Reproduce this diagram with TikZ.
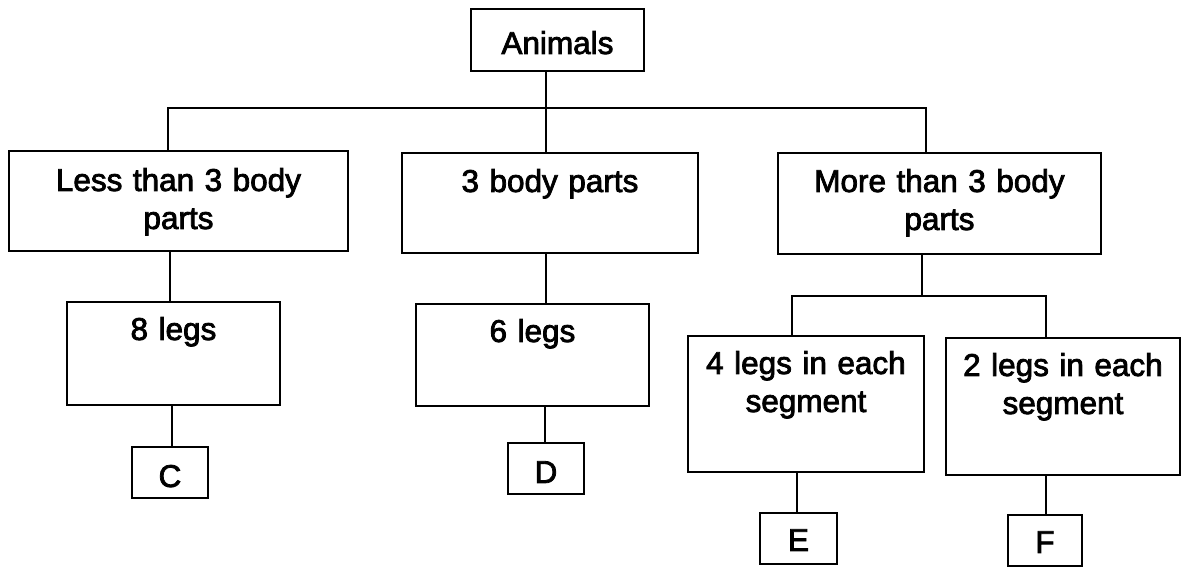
\documentclass[tikz,border=0pt]{standalone}
\usepackage{fontspec}
\setmainfont{Liberation Sans}[FakeBold=2.5,WordSpace=0.8]
\begin{document}
\begin{tikzpicture}[x=1pt,y=-1pt,
  box/.style={draw, line width=1.9pt, inner sep=0pt, anchor=north west, align=center, font=\fontsize{31.5}{38}\selectfont},
  conn/.style={line width=1.9pt}]
\useasboundingbox (0,0) rectangle (1182,568);
% boxes
\node[box, minimum width=173pt, text width=173pt, text height=45pt, text depth=17pt] (animals) at (470,8) {Animals};
\node[box, minimum width=339pt, text width=339pt, text height=40pt, text depth=60pt] (less) at (8,150) {Less than 3 body\\parts};
\node[box, minimum width=296pt, text width=296pt, text height=39pt, text depth=61pt] (mid) at (401,152) {3 body parts};
\node[box, minimum width=323pt, text width=323pt, text height=39pt, text depth=62pt] (more) at (777,152) {More than 3 body\\parts};
\node[box, minimum width=213pt, text width=213pt, text height=38pt, text depth=65pt] (legs8) at (66,301) {8 legs};
\node[box, minimum width=233pt, text width=233pt, text height=38pt, text depth=64pt] (legs6) at (415,303) {6 legs};
\node[box, minimum width=236pt, text width=236pt, text height=38pt, text depth=98pt] (legs4) at (687,335) {4 legs in each\\segment};
\node[box, minimum width=234pt, text width=234pt, text height=38pt, text depth=99pt] (legs2) at (945,337) {2 legs in each\\segment};
\node[box, minimum width=76pt, text width=76pt, text height=40pt, text depth=11pt] (c) at (131,446) {C};
\node[box, minimum width=76pt, text width=76pt, text height=40pt, text depth=11pt] (d) at (507,442) {D};
\node[box, minimum width=77pt, text width=77pt, text height=38pt, text depth=13pt] (e) at (759,512) {E};
\node[box, minimum width=74pt, text width=74pt, text height=38pt, text depth=13pt] (f) at (1007,514) {F};
% connector coordinates
\coordinate (b1) at (168,108);
\coordinate (b2) at (546,108);
\coordinate (b3) at (926,108);
\coordinate (c1) at (792,296);
\coordinate (c2) at (922,296);
\coordinate (c3) at (1046,296);
\coordinate (v1) at (170,0);
\coordinate (v2) at (172,0);
\coordinate (v4) at (545,0);
\coordinate (v6) at (797,0);
% connectors
\draw[conn] (animals.south -| b2) -- (b2);
\draw[conn] (less.north -| b1) -- (b1) -- (b3) -- (more.north -| b3);
\draw[conn] (b2) -- (mid.north -| b2);
\draw[conn] (less.south -| v1) -- (legs8.north -| v1);
\draw[conn] (legs8.south -| v2) -- (c.north -| v2);
\draw[conn] (mid.south -| b2) -- (legs6.north -| b2);
\draw[conn] (legs6.south -| v4) -- (d.north -| v4);
\draw[conn] (more.south -| c2) -- (c2);
\draw[conn] (legs4.north -| c1) -- (c1) -- (c3) -- (legs2.north -| c3);
\draw[conn] (legs4.south -| v6) -- (e.north -| v6);
\draw[conn] (legs2.south -| c3) -- (f.north -| c3);
\end{tikzpicture}
\end{document}
